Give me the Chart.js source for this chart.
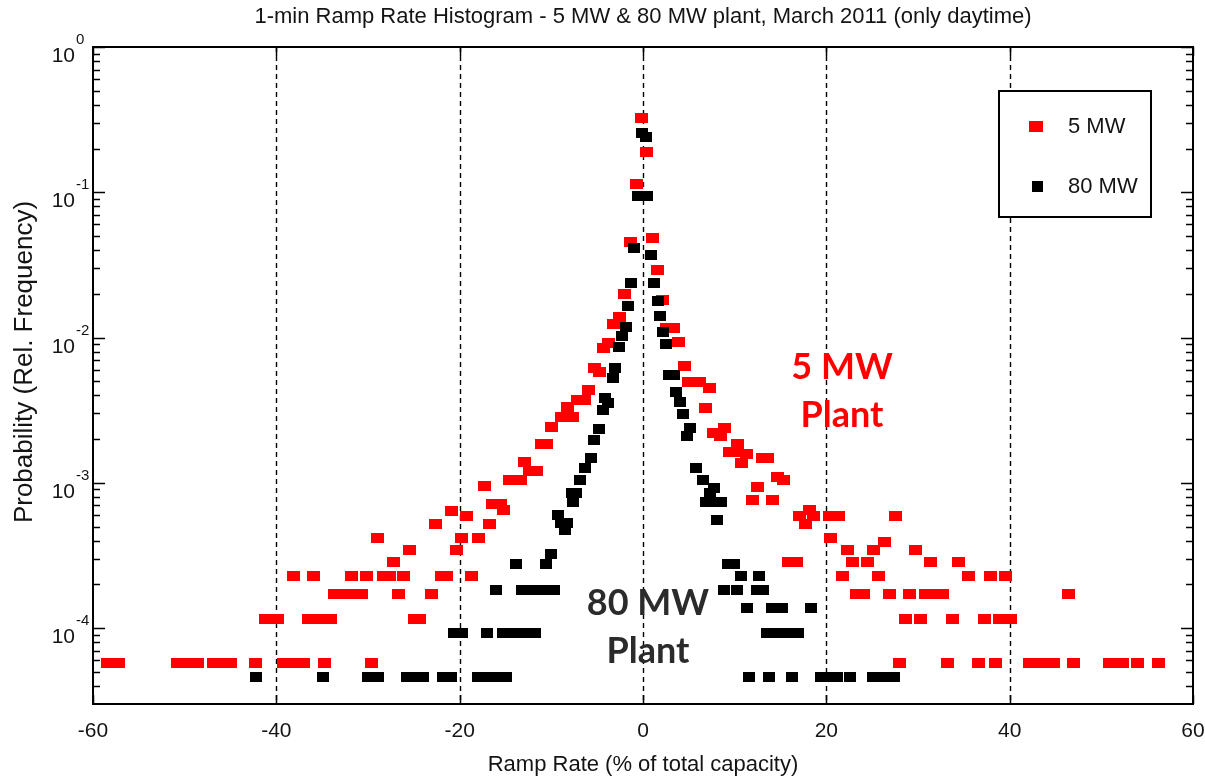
<!DOCTYPE html>
<html><head><meta charset="utf-8">
<script src="https://cdn.jsdelivr.net/npm/chart.js@4.4.1/dist/chart.umd.min.js"></script>
<style>html,body{margin:0;padding:0;background:#fff}#wrap{width:1205px;height:779px;position:relative}</style>
</head><body><div id="wrap"><canvas id="c" width="1205" height="779"></canvas></div>
<script>
const chartTitle = '1-min Ramp Rate Histogram - 5 MW & 80 MW plant, March 2011 (only daytime)';
const xAxisTitle = 'Ramp Rate (% of total capacity)';
const yAxisTitle = 'Probability (Rel. Frequency)';
const xTicks = [-60, -40, -20, 0, 20, 40, 60];
const xGridLines = [-40, -20, 0, 20, 40];
const yTicks = [1e-4, 1e-3, 1e-2, 1e-1, 1];
const yTickBase = '10';
const yTickExponents = ['-4', '-3', '-2', '-1', '0'];
const seriesNames = ['5 MW', '80 MW'];
const label5 = ['5 MW', 'Plant'];
const label80 = ['80 MW', 'Plant'];

// 5 MW plant: ramp rate (%) and relative frequency
const plant5x = [
 -0.2, 0.4, -0.7, -1.4, 1.0, 1.6, -2.0, 2.1, -2.6, -3.2, 2.6, 3.3, -3.8, 3.9, -4.3, 4.5, -5.3, -4.7,
 5.0, 6.2, 7.3, -5.9, -7.2, -6.4, -8.2, 6.8, -8.9, -7.7, -10.0, 8.9, 7.7, 8.4, -11.1, -10.5, 10.3,
 9.4, 9.9, 11.3, 13.0, 13.6, -12.9, 10.7, -12.4, -11.6, 14.7, -14.6, -13.4, 15.3, -17.3, 12.5,
 11.9, 14.1, -16.4, -15.6, 18.2, -15.2, -20.9, -19.3, 17.1, 18.6, 20.3, 21.3, 27.5, -22.6, -16.8, 17.7,
 -29.0, -19.8, -18.0, 20.5, 26.3, -25.5, -20.3, 22.3, 25.1, 29.7,
 -27.2, 15.9, 16.7, 22.9, 24.5, 31.4, 34.4,
 -38.1, -35.9, -31.8, -30.2, -28.3, -27.7, -26.1, -22.0, -21.4, -18.7, 21.8, 25.7, 35.5, 37.9, 39.5,
 -33.7, -32.6, -31.7, -30.7, -26.7, -23.1, 23.3, 24.0, 26.9, 29.1, 30.8, 31.8, 32.7, 46.4,
 -41.2, -39.9, -36.5, -35.3, -34.1, -24.9, -24.4, 28.6, 30.3, 33.8, 37.3, 38.9, 40.1,
 -58.4, -57.2, -50.8, -49.7, -48.6, -46.9, -45.9, -45.0, -42.3, -39.2, -38.1, -37.0, -34.7, -29.6,
 28.0, 33.2, 36.6, 38.4, 42.2, 43.5, 44.8, 47.0, 50.9, 52.3, 53.9, 56.2
];
const plant5p = [
 0.325, 0.19, 0.114, 0.0456, 0.0486, 0.0292, 0.020, 0.0182, 0.0139, 0.0124, 0.0117, 0.0117, 0.0091, 0.0093, 0.0085, 0.0064, 0.0062, 0.0058,
 0.00496, 0.00496, 0.0045, 0.00436, 0.00373, 0.00373, 0.00333, 0.00328, 0.00285, 0.00285, 0.00243, 0.0024, 0.0022, 0.0021, 0.00185, 0.00185, 0.00185,
 0.00163, 0.00163, 0.00158, 0.00149, 0.00149, 0.00139, 0.00137, 0.00121, 0.00121, 0.0011, 0.00105, 0.00105, 0.00105, 0.00095, 0.00094,
 0.00076, 0.00076, 0.00072, 0.00072, 0.00065, 0.00065, 0.00064, 0.00059, 0.00059, 0.00059, 0.00059, 0.00059, 0.00059, 0.00052, 0.00052, 0.00052,
 0.00042, 0.00042, 0.00042, 0.00042, 0.00039, 0.000345, 0.000345, 0.000345, 0.000345, 0.000345,
 0.000287, 0.000287, 0.000287, 0.000287, 0.000287, 0.000287, 0.000287,
 0.00023, 0.00023, 0.00023, 0.00023, 0.00023, 0.00023, 0.00023, 0.00023, 0.00023, 0.00023, 0.00023, 0.00023, 0.00023, 0.00023, 0.00023,
 0.000172, 0.000172, 0.000172, 0.000172, 0.000172, 0.000172, 0.000172, 0.000172, 0.000172, 0.000172, 0.000172, 0.000172, 0.000172, 0.000172,
 0.000115, 0.000115, 0.000115, 0.000115, 0.000115, 0.000115, 0.000115, 0.000115, 0.000115, 0.000115, 0.000115, 0.000115, 0.000115,
 0.0000575, 0.0000575, 0.0000575, 0.0000575, 0.0000575, 0.0000575, 0.0000575, 0.0000575, 0.0000575, 0.0000575, 0.0000575, 0.0000575, 0.0000575, 0.0000575,
 0.0000575, 0.0000575, 0.0000575, 0.0000575, 0.0000575, 0.0000575, 0.0000575, 0.0000575, 0.0000575, 0.0000575, 0.0000575, 0.0000575
];

// 80 MW plant
const plant80x = [
 -0.1, 0.3, -0.55, 0.45, -1.0, 0.9, -1.3, 1.25, 1.6, -1.6, 1.8, -1.9, 2.2, -2.3, 2.5, -2.6, -3.05, 2.8, 3.4,
 -3.3, 3.65, -4.1, 4.0, -3.8, -4.4, 4.4, 5.1, -4.8, 4.8, -5.35, -5.7, -6.3, 5.8, -6.9, 6.5, 7.7,
 -7.8, -7.3, 7.3, -7.6, 6.9, 7.7, 8.5, -9.3, 8.1, -8.9, -8.3, -8.5, -10.0,
 -13.9, -10.6, 9.3, 9.9, 10.7, 12.7,
 -16.0, -13.2, -12.1, -10.9, -9.7, 8.8, 10.3, 12.4, 13.1,
 11.3, 14.1, 15.2, 18.3,
 -20.6, -19.8, -17.0, -15.3, -14.2, -13.0, -11.8, 13.5, 14.6, 15.6, 16.9,
 -42.2, -34.9, -30.0, -28.9, -25.7, -24.9, -24.0, -21.8, -20.9, -18.0, -16.9, -15.9, -14.9,
 11.6, 13.7, 16.3, 19.4, 20.3, 21.2, 22.6, 25.1, 26.2, 27.4
];
const plant80p = [
 0.255, 0.24, 0.0945, 0.0945, 0.0414, 0.037, 0.0238, 0.0238, 0.0178, 0.0164, 0.014, 0.0119, 0.0109, 0.0103, 0.009, 0.0086, 0.0062, 0.0055, 0.0055,
 0.00528, 0.0042, 0.00385, 0.0036, 0.00355, 0.00318, 0.00298, 0.00239, 0.00235, 0.00211, 0.00198, 0.00149, 0.00127, 0.00127, 0.00105, 0.00105, 0.00092,
 0.00085, 0.00085, 0.00085, 0.00074, 0.00074, 0.00074, 0.00074, 0.0006, 0.000555, 0.00053, 0.00053, 0.000475, 0.000322,
 0.000276, 0.000276, 0.000276, 0.000276, 0.00023, 0.00023,
 0.000184, 0.000184, 0.000184, 0.000184, 0.000184, 0.000184, 0.000184, 0.000184, 0.000184,
 0.000138, 0.000138, 0.000138, 0.000138,
 0.000092, 0.000092, 0.000092, 0.000092, 0.000092, 0.000092, 0.000092, 0.000092, 0.000092, 0.000092, 0.000092,
 0.000046, 0.000046, 0.000046, 0.000046, 0.000046, 0.000046, 0.000046, 0.000046, 0.000046, 0.000046, 0.000046, 0.000046, 0.000046,
 0.000046, 0.000046, 0.000046, 0.000046, 0.000046, 0.000046, 0.000046, 0.000046, 0.000046, 0.000046
];

const RED = '#ff0000', BLACK = '#000000', INK = '#141414';
function marker(color, w, h) {
  const c = document.createElement('canvas');
  c.width = w; c.height = h;
  const g = c.getContext('2d');
  g.fillStyle = color; g.fillRect(0, 0, w, h);
  return c;
}
const redMark = marker(RED, 13, 10);
const blackMark = marker(BLACK, 12, 10);
const FONT = '"Liberation Sans", Arial, sans-serif';

const framePlugin = {
  id: 'frame',
  beforeDatasetsDraw(chart) {
    const { ctx, chartArea: a, scales: { x } } = chart;
    ctx.save();
    ctx.strokeStyle = '#000'; ctx.lineWidth = 1.4; ctx.setLineDash([5, 4]);
    xGridLines.forEach(v => {
      const px = Math.round(x.getPixelForValue(v)) + 0.5;
      ctx.beginPath(); ctx.moveTo(px, a.top); ctx.lineTo(px, a.bottom); ctx.stroke();
    });
    ctx.restore();
  },
  afterDatasetsDraw(chart) {
    const { ctx, chartArea: a, scales: { x, y } } = chart;
    const line = (x1, y1, x2, y2) => { ctx.beginPath(); ctx.moveTo(x1, y1); ctx.lineTo(x2, y2); ctx.stroke(); };
    ctx.save();
    ctx.strokeStyle = '#000'; ctx.setLineDash([]);
    ctx.lineWidth = 2;
    ctx.strokeRect(a.left, a.top, a.right - a.left, a.bottom - a.top);
    ctx.lineWidth = 1.5;
    xTicks.forEach(v => {
      const px = Math.round(x.getPixelForValue(v)) + 0.5;
      line(px, a.bottom, px, a.bottom - 9);
      line(px, a.top, px, a.top + 9);
    });
    for (let e = -5; e <= 0; e++) {
      for (let m = 1; m <= 9; m++) {
        const v = m * Math.pow(10, e);
        if (v < y.min * 1.001 || v > y.max * 1.001) continue;
        const py = Math.round(y.getPixelForValue(v)) + 0.5;
        const L = m === 1 ? 12 : 7;
        line(a.left, py, a.left + L, py);
        line(a.right, py, a.right - L, py);
      }
    }
    // y tick labels: base with raised exponent
    ctx.fillStyle = INK;
    yTicks.forEach((v, i) => {
      const py = y.getPixelForValue(v);
      ctx.font = '21px ' + FONT; ctx.textAlign = 'right'; ctx.textBaseline = 'alphabetic';
      ctx.fillText(yTickBase, a.left - 18, py + 15);
      ctx.font = '15px ' + FONT; ctx.textAlign = 'left';
      ctx.fillText(yTickExponents[i], a.left - 17, py - 3);
    });
    // y axis title
    ctx.save();
    ctx.translate(25, 362);
    ctx.rotate(-Math.PI / 2);
    ctx.font = '26px ' + FONT; ctx.textAlign = 'center'; ctx.textBaseline = 'middle';
    ctx.fillText(yAxisTitle, 0, 0);
    ctx.restore();
    // legend
    ctx.lineWidth = 2;
    ctx.fillStyle = '#fff';
    ctx.fillRect(999, 91, 152, 126);
    ctx.strokeRect(999, 91, 152, 126);
    ctx.drawImage(marker(RED, 14, 11), 1029, 121);
    ctx.drawImage(marker(BLACK, 11, 11), 1032, 181);
    ctx.fillStyle = INK;
    ctx.font = '22px ' + FONT;
    ctx.textAlign = 'left'; ctx.textBaseline = 'middle';
    ctx.fillText(seriesNames[0], 1068, 127);
    ctx.fillText(seriesNames[1], 1068, 187);
    // annotations
    ctx.textAlign = 'center';
    ctx.font = 'bold 36px Lato, "Open Sans", sans-serif';
    ctx.fillStyle = RED;
    ctx.fillText(label5[0], 842, 367);
    ctx.fillText(label5[1], 842, 415);
    ctx.fillStyle = '#2b2b2b';
    ctx.fillText(label80[0], 648, 603);
    ctx.fillText(label80[1], 648, 651);
    ctx.restore();
  },
  afterDraw(chart) {
    const { ctx, chartArea: a } = chart;
    ctx.save();
    ctx.fillStyle = INK;
    ctx.font = '22px ' + FONT;
    ctx.textAlign = 'center'; ctx.textBaseline = 'middle';
    ctx.fillText(chartTitle, (a.left + a.right) / 2, 17);
    ctx.restore();
  }
};

const toPts = (xs, ps) => xs.map((v, i) => ({ x: v, y: ps[i] }));

new Chart(document.getElementById('c'), {
  type: 'scatter',
  data: {
    datasets: [
      { label: seriesNames[0], data: toPts(plant5x, plant5p), pointStyle: redMark, pointRadius: 5, backgroundColor: RED, borderColor: RED, order: 2 },
      { label: seriesNames[1], data: toPts(plant80x, plant80p), pointStyle: blackMark, pointRadius: 5, backgroundColor: BLACK, borderColor: BLACK, order: 1 }
    ]
  },
  options: {
    responsive: false,
    animation: false,
    devicePixelRatio: 1,
    layout: { autoPadding: false, padding: { top: 47, right: 12, left: 0, bottom: 0 } },
    plugins: { legend: { display: false }, tooltip: { enabled: false }, title: { display: false } },
    scales: {
      x: {
        type: 'linear', min: -60, max: 60,
        afterFit: s => { s.height = 75; s.paddingLeft = 0; s.paddingRight = 0; },
        afterBuildTicks: s => { s.ticks = xTicks.map(v => ({ value: v })); },
        grid: { display: false, drawTicks: false },
        border: { display: false },
        ticks: { color: INK, font: { family: FONT, size: 21 }, padding: 15, autoSkip: false, maxRotation: 0 },
        title: { display: true, text: xAxisTitle, color: INK, font: { family: FONT, size: 22 }, padding: { top: 0, bottom: 1 } }
      },
      y: {
        type: 'logarithmic', min: 3e-5, max: 1,
        afterFit: s => { s.width = 93; s.paddingTop = 0; s.paddingBottom = 0; },
        afterBuildTicks: s => { s.ticks = yTicks.map(v => ({ value: v })); },
        grid: { display: false, drawTicks: false },
        border: { display: false },
        ticks: { display: false },
        title: { display: false }
      }
    }
  },
  plugins: [framePlugin]
});
</script></body></html>
